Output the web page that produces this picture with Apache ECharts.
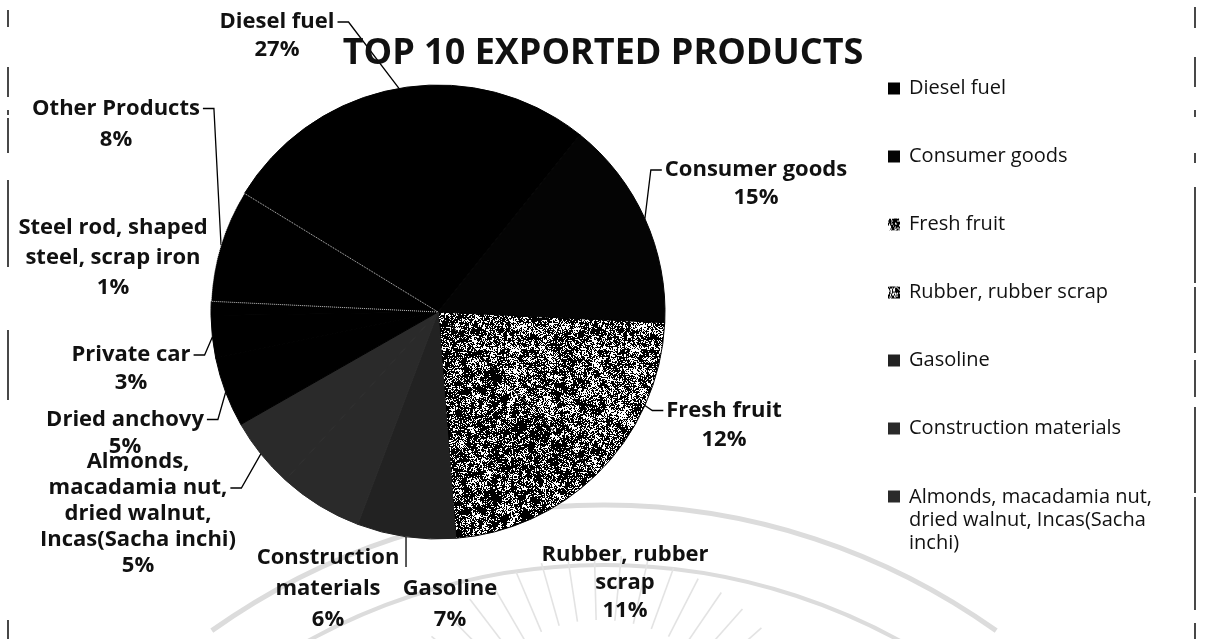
<!DOCTYPE html>
<html>
<head>
<meta charset="utf-8">
<script src="https://cdn.jsdelivr.net/npm/echarts@6/dist/echarts.min.js"></script>
<style>
  html, body { margin: 0; padding: 0; background: #fff; }
  #chart { width: 1206px; height: 639px; }
</style>
</head>
<body>
<div id="chart"></div>
<script>
// Export shares (%) of the top products
const products = [
  'Diesel fuel',
  'Consumer goods',
  'Fresh fruit',
  'Rubber, rubber scrap',
  'Gasoline',
  'Construction materials',
  'Almonds, macadamia nut, dried walnut, Incas(Sacha inchi)',
  'Dried anchovy',
  'Private car',
  'Steel rod, shaped steel, scrap iron',
  'Other Products'
];
const shares = [27, 15, 12, 11, 7, 6, 5, 5, 3, 1, 8];

// Wrapped text used for the slice labels
const sliceLabelText = [
  'Diesel fuel',
  'Consumer goods',
  'Fresh fruit',
  'Rubber, rubber\nscrap',
  'Gasoline',
  'Construction\nmaterials',
  'Almonds,\nmacadamia nut,\ndried walnut,\nIncas(Sacha inchi)',
  'Dried anchovy',
  'Private car',
  'Steel rod, shaped\nsteel, scrap iron',
  'Other Products'
];
// Wrapped text used in the legend
const legendWrapped = 'Almonds, macadamia nut,\ndried walnut, Incas(Sacha\ninchi)';
const legendMain = products.slice(0, 6);
const legendLast = [products[6]];

// Label placement (centre of each label block), line spacing and leader side
const labelPlace = [
  { x: 277, y: 36,  lh: 28, lead: 'right', line: 0 },
  { x: 756, y: 184, lh: 28, lead: 'left',  line: 0 },
  { x: 724, y: 425, lh: 29, lead: 'left',  line: 0 },
  { x: 625, y: 583, lh: 28, lead: 'none' },
  { x: 450, y: 604, lh: 31, lead: 'top' },
  { x: 328, y: 589, lh: 31, lead: 'none' },
  { x: 138, y: 514, lh: 26, lead: 'right', line: 1 },
  { x: 125, y: 433, lh: 27, lead: 'right', line: 0 },
  { x: 131, y: 369, lh: 28, lead: 'right', line: 0 },
  { x: 113, y: 258, lh: 30, lead: 'none' },
  { x: 116, y: 124, lh: 31, lead: 'right', line: 0 }
];

const LABEL_FONT = 22;

// Grainy black/white fill for the textured slices
function speckle(seed, density) {
  const N = 120, cell = 4, G = N / cell;
  const c = document.createElement('canvas');
  c.width = N; c.height = N;
  const ctx = c.getContext('2d');
  const img = ctx.createImageData(N, N);
  const hash = (x, y) => {
    const n = Math.sin(x * 127.1 + y * 311.7 + seed * 74.7) * 43758.5453;
    return n - Math.floor(n);
  };
  const coarse = (x, y) => {
    const gx = x / cell, gy = y / cell;
    const ix = Math.floor(gx), iy = Math.floor(gy);
    const fx = gx - ix, fy = gy - iy;
    const a = hash(ix % G, iy % G), b = hash((ix + 1) % G, iy % G);
    const d = hash(ix % G, (iy + 1) % G), e = hash((ix + 1) % G, (iy + 1) % G);
    return (a * (1 - fx) + b * fx) * (1 - fy) + (d * (1 - fx) + e * fx) * fy;
  };
  for (let y = 0; y < N; y++) {
    for (let x = 0; x < N; x++) {
      const v = 0.45 * coarse(x, y) + 0.55 * hash(x + 1000, y + 2000);
      const w = v > 1 - density ? 255 : 0;
      const k = (y * N + x) * 4;
      img.data[k] = img.data[k + 1] = img.data[k + 2] = w;
      img.data[k + 3] = 255;
    }
  }
  ctx.putImageData(img, 0, 0);
  return { image: c, repeat: 'repeat' };
}

const sliceColors = [
  '#000000', '#040404', speckle(1, 0.44), speckle(2, 0.38), '#222222',
  '#2a2a2a', '#2a2a2a', '#000000', '#000000', '#000000', '#000000'
];
// Edge colour per slice, so neighbouring dark slices join without seams
const sliceEdges = [
  '#000000', '#040404', '#000000', '#000000', '#222222',
  '#2a2a2a', '#2a2a2a', '#000000', '#000000', '#000000', null
];

const measureCtx = document.createElement('canvas').getContext('2d');
function textWidth(str) {
  measureCtx.font = 'bold ' + LABEL_FONT + 'px "Open Sans"';
  return measureCtx.measureText(str).width;
}

const pieData = products.map((name, i) => ({
  name: name,
  value: shares[i],
  itemStyle: sliceEdges[i]
    ? { color: sliceColors[i], borderColor: sliceEdges[i], borderWidth: 1 }
    : { color: sliceColors[i], borderColor: 'rgba(255,255,255,0.75)', borderWidth: 1, borderType: 'dotted' },
  label: { lineHeight: labelPlace[i].lh },
  labelLine: { show: labelPlace[i].lead !== 'none' }
}));

// Faint seal watermark and scanned page edges drawn behind the chart
const decor = [];
[[675, 5], [615, 4]].forEach(([r, lw]) => {
  decor.push({
    type: 'arc', z: -10, silent: true,
    shape: { cx: 604, cy: 1180, r: r, startAngle: -Math.PI / 2 - 0.62, endAngle: -Math.PI / 2 + 0.62 },
    style: { stroke: '#dcdcdc', lineWidth: lw, fill: null }
  });
});
for (let a = -Math.PI + 0.42; a < -0.4; a += 0.125) {
  decor.push({
    type: 'line', z: -10, silent: true,
    shape: { x1: 600 + 150 * Math.cos(a), y1: 770 + 150 * Math.sin(a), x2: 600 + 215 * Math.cos(a), y2: 770 + 215 * Math.sin(a) },
    style: { stroke: '#e3e3e3', lineWidth: 1.6 }
  });
}
const leftEdge = [[10, 27], [67, 97], [110, 115], [118, 153], [180, 267], [330, 400], [620, 639]];
const rightEdge = [[7, 28], [57, 87], [110, 117], [153, 163], [187, 283], [287, 353], [360, 397], [407, 493], [497, 610], [623, 639]];
leftEdge.forEach(([a, b]) => decor.push({ type: 'line', silent: true, shape: { x1: 8, y1: a, x2: 8, y2: b }, style: { stroke: '#1a1a1a', lineWidth: 1.6 } }));
rightEdge.forEach(([a, b]) => decor.push({ type: 'line', silent: true, shape: { x1: 1195, y1: a, x2: 1195, y2: b }, style: { stroke: '#1a1a1a', lineWidth: 1.6 } }));

const legendText = { fontFamily: 'Open Sans', fontSize: 20, lineHeight: 23, color: '#111', padding: [0, 0, 0, 4] };

const chart = echarts.init(document.getElementById('chart'), null, { renderer: 'canvas' });
chart.setOption({
  animation: false,
  backgroundColor: '#ffffff',
  title: {
    text: 'TOP 10 EXPORTED PRODUCTS',
    left: 'center',
    top: 29,
    textStyle: { fontFamily: 'Open Sans', fontWeight: 'bold', fontSize: 36, lineHeight: 40, color: '#111' }
  },
  legend: [{
    data: legendMain,
    orient: 'vertical',
    left: 883,
    top: 72,
    icon: 'rect',
    itemWidth: 12,
    itemHeight: 12,
    itemGap: 45,
    selectedMode: false,
    itemStyle: { borderWidth: 0 },
    textStyle: legendText
  }, {
    data: legendLast,
    orient: 'vertical',
    left: 883,
    top: 481,
    icon: 'path://M0,0H12V12H0Z M0,60H0.01V60.01H0Z',
    itemWidth: 12,
    itemHeight: 60,
    selectedMode: false,
    itemStyle: { borderWidth: 0 },
    formatter: () => legendWrapped,
    textStyle: legendText
  }],
  graphic: decor,
  series: [{
    type: 'pie',
    center: [438, 312],
    radius: 227,
    startAngle: 148.5,
    clockwise: true,
    avoidLabelOverlap: false,
    data: pieData,
    label: {
      show: true,
      position: 'outside',
      formatter: p => sliceLabelText[p.dataIndex] + '\n' + Math.round(p.percent) + '%',
      fontFamily: 'Open Sans',
      fontWeight: 'bold',
      fontSize: LABEL_FONT,
      color: '#111',
      align: 'center'
    },
    labelLine: { show: true, lineStyle: { color: '#000', width: 1.3 } },
    labelLayout: function (p) {
      const s = labelPlace[p.dataIndex];
      const h = p.labelRect.height;
      const top = s.y - h / 2;
      const out = { x: s.x, y: s.y, align: 'center', verticalAlign: 'middle' };
      const p0 = p.labelLinePoints && p.labelLinePoints[0];
      if (p0 && s.lead !== 'none') {
        const lines = sliceLabelText[p.dataIndex].split('\n');
        if (s.lead === 'top') {
          out.labelLinePoints = [p0, [p0[0], top - 6]];
        } else {
          const ly = top + s.lh * (s.line + 0.5);
          const half = textWidth(lines[s.line]) / 2;
          if (s.lead === 'right') {
            const ex = s.x + half + 3;
            out.labelLinePoints = [p0, [ex + 11, ly], [ex, ly]];
          } else {
            const ex = s.x - half - 3;
            out.labelLinePoints = [p0, [ex - 11, ly], [ex, ly]];
          }
        }
      }
      return out;
    }
  }]
});
</script>
</body>
</html>
